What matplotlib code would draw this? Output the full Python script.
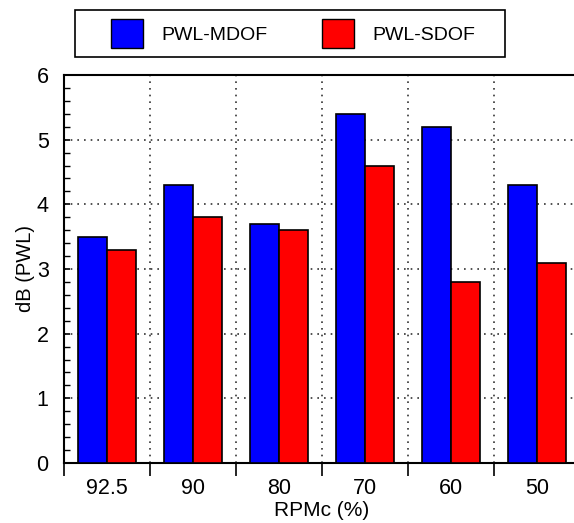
import numpy as np
import matplotlib.pyplot as plt
from matplotlib.patches import Patch, Rectangle

plt.rcParams['font.family'] = ['Liberation Sans', 'DejaVu Sans']

# data
rpm = ['92.5', '90', '80', '70', '60', '50']
mdof = [3.5, 4.3, 3.7, 5.4, 5.2, 4.3]
sdof = [3.3, 3.8, 3.6, 4.6, 2.8, 3.1]

W, H = 574, 523
fig = plt.figure(figsize=(W / 100, H / 100), dpi=100)
# axes runs past the right edge, as in the original crop
ax = fig.add_axes([64 / W, (H - 463) / H, 516 / W, 388 / H])

x = np.arange(len(rpm))
bw = 1 / 3
ax.bar(x - bw / 2, mdof, bw, color='#0000ff', edgecolor='black', linewidth=1.2, zorder=3)
ax.bar(x + bw / 2, sdof, bw, color='#ff0000', edgecolor='black', linewidth=1.2, zorder=3)

ax.set_xlim(-0.5, len(rpm) - 0.5)
ax.set_ylim(0, 6)

# boundaries carry the ticks and grid, centres carry the labels
ax.set_xticks(np.arange(len(rpm) + 1) - 0.5)
ax.set_xticklabels([])
ax.set_xticks(x, minor=True)
ax.set_xticklabels(rpm, minor=True, fontsize=15.5)
ax.tick_params(axis='x', which='major', direction='out', length=9, width=1.2)
ax.tick_params(axis='x', which='minor', length=0, pad=11)

ax.set_yticks(np.arange(0, 7, 1))
ax.set_yticks(np.arange(0, 6.01, 0.2), minor=True)
ax.tick_params(axis='y', which='major', direction='in', length=4, width=1.2, labelsize=15.5, pad=11)
ax.tick_params(axis='y', which='minor', direction='in', length=4, width=1.0)

ax.grid(True, which='major', linestyle=(0, (1, 3)), color='#333333', linewidth=1.2, zorder=0)

for s in ax.spines.values():
    s.set_linewidth(1.5)

ax.set_xlabel('RPMc (%)', fontsize=15, labelpad=1)
ax.set_ylabel('dB (PWL)', fontsize=14.5, labelpad=1)

# legend box: frame drawn on its own, entries placed inside it
fig.patches.append(Rectangle((75 / W, 1 - 57 / H), 430 / W, 47 / H, transform=fig.transFigure,
                             facecolor='white', edgecolor='black', linewidth=1.2))
handles = [Patch(facecolor='#0000ff', edgecolor='black', label='PWL-MDOF'),
           Patch(facecolor='#ff0000', edgecolor='black', label='PWL-SDOF')]
fs = 14
px = fs * 100 / 72
leg = fig.legend(handles=handles, loc='upper left', ncol=2,
                 bbox_to_anchor=(111 / W, 1 - 19 / H), frameon=False, fontsize=fs,
                 handlelength=32 / px, handleheight=1.92, handletextpad=18 / px,
                 columnspacing=55 / px, borderaxespad=0, borderpad=0)

fig.savefig('out.png', dpi=100)
